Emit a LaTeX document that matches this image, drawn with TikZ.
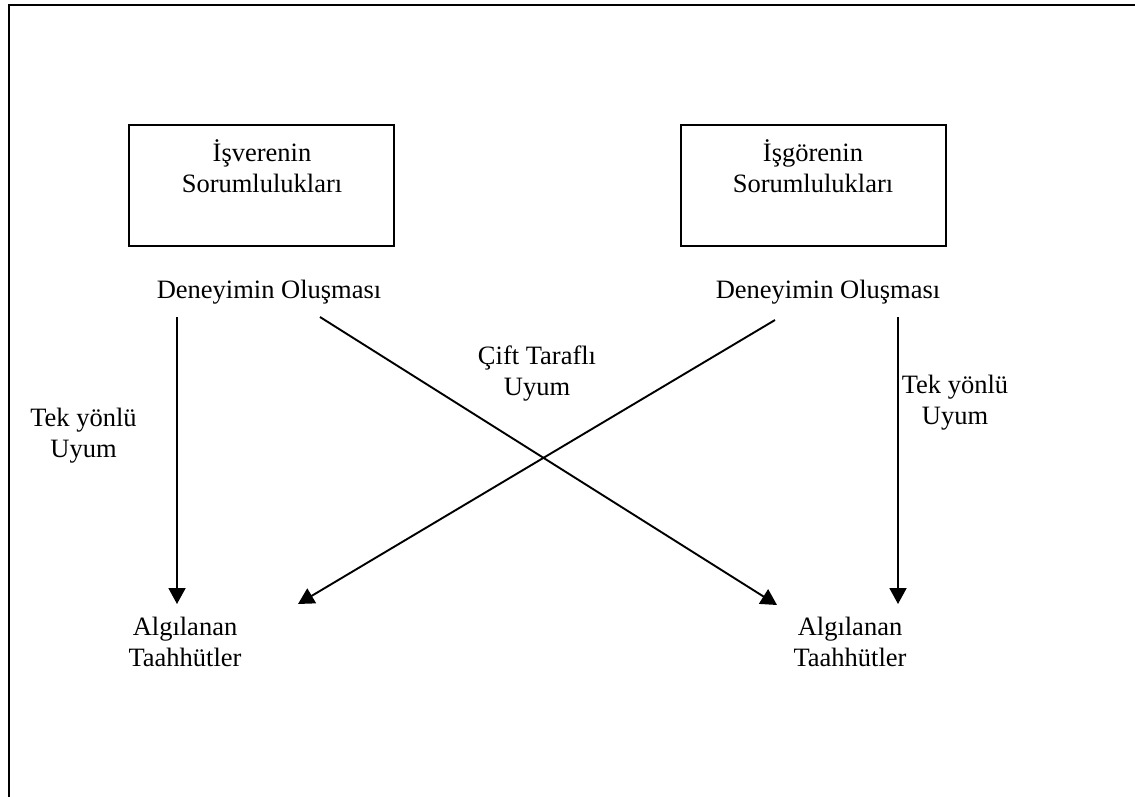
\documentclass[tikz,border=0pt]{standalone}
\usepackage{fontspec}
\setmainfont{Liberation Serif}
\usetikzlibrary{arrows.meta}

\begin{document}
\begin{tikzpicture}[x=1pt, y=-1pt,
  txt/.style={inner sep=0pt, align=center, anchor=base,
              font=\fontsize{26.5}{31}\selectfont},
  frame/.style={draw, line width=2pt},
  respbox/.style={draw, line width=1.9pt, minimum width=265pt,
                  minimum height=121pt, inner sep=0pt},
  link/.style={line width=1.9pt, -{Triangle[width=17pt, length=16pt]}}]

  \useasboundingbox (0,0) rectangle (1135,796);

  % outer frame (only its top and left sides fall on the page)
  \draw[frame] (9,805) |- (1145,5);

  % responsibility boxes
  \node[respbox] (box1) at (261.5,185.5) {};
  \node[respbox] (box2) at (813.5,185.5) {};
  % two-line labels are placed by the baseline of their last line
  \node[txt] (resp1) at (262,192) {İşverenin\\Sorumlulukları};
  \node[txt] (resp2) at (813,192) {İşgörenin\\Sorumlulukları};

  % experience labels
  \node[txt] (exp1) at (269,298) {Deneyimin Oluşması};
  \node[txt] (exp2) at (828,298) {Deneyimin Oluşması};

  % perceived commitments
  \node[txt] (com1) at (185,666) {Algılanan\\Taahhütler};
  \node[txt] (com2) at (850,666) {Algılanan\\Taahhütler};

  % arrow labels
  \node[txt] (one1) at (83.5,457) {Tek yönlü\\Uyum};
  \node[txt] (one2) at (955,424) {Tek yönlü\\Uyum};
  \node[txt] (two)  at (537,395) {Çift Taraflı\\Uyum};

  % arrow end points
  \coordinate (s1) at (177,317);
  \coordinate (e1) at (177,604);
  \coordinate (s2) at (320,317);
  \coordinate (e2) at (777,605);
  \coordinate (s3) at (775,320);
  \coordinate (e3) at (298,604);
  \coordinate (s4) at (898,317);
  \coordinate (e4) at (898,604);

  \draw[link] (s1) -- (e1);
  \draw[link] (s2) -- (e2);
  \draw[link] (s3) -- (e3);
  \draw[link] (s4) -- (e4);
\end{tikzpicture}
\end{document}
